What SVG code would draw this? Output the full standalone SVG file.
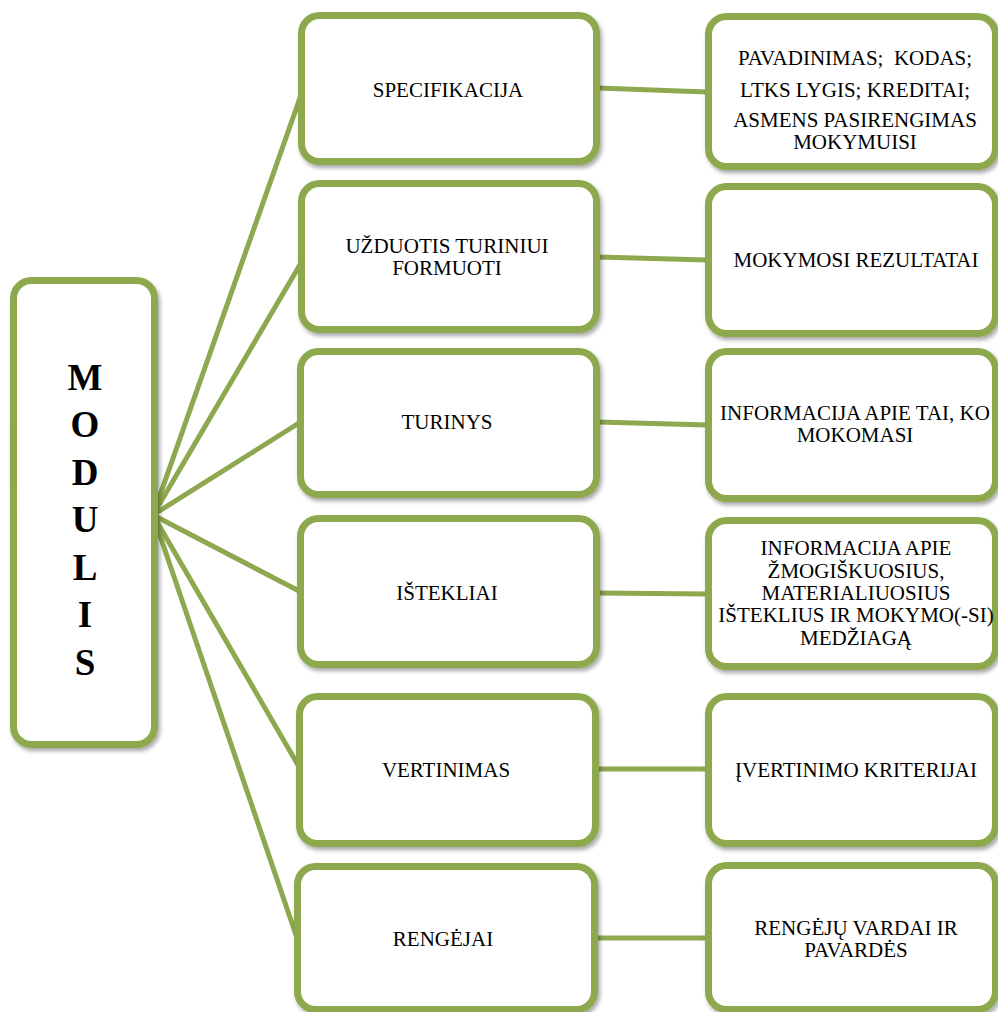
<svg xmlns="http://www.w3.org/2000/svg" width="998" height="1012" viewBox="0 0 998 1012">
<defs>
<filter id="sh" x="-10%" y="-10%" width="120%" height="120%">
<feDropShadow dx="2" dy="3" stdDeviation="2" flood-color="#000" flood-opacity="0.35"/>
</filter>
<style>
.box{fill:#fff;stroke:#8DA84E;stroke-width:7;filter:url(#sh)}
.ln{stroke:#8DA84E;stroke-width:5;fill:none;stroke-linecap:butt}
.t{font-family:"Liberation Serif","Times New Roman",serif;font-size:21px;fill:#000;text-anchor:middle}
.big{font-family:"Liberation Serif","Times New Roman",serif;font-size:37px;font-weight:bold;fill:#000;text-anchor:middle}
</style>
</defs>
<rect width="998" height="1012" fill="#fff"/>
<g id="connectors">
<line class="ln" x1="153" y1="515" x2="301" y2="95"/>
<line class="ln" x1="153" y1="515" x2="301" y2="263"/>
<line class="ln" x1="153" y1="515" x2="299" y2="423"/>
<line class="ln" x1="153" y1="515" x2="299" y2="591"/>
<line class="ln" x1="153" y1="515" x2="298" y2="765"/>
<line class="ln" x1="153" y1="515" x2="296" y2="935"/>
<line class="ln" x1="598" y1="88" x2="707" y2="92"/>
<line class="ln" x1="598" y1="257" x2="707" y2="260"/>
<line class="ln" x1="598" y1="422" x2="707" y2="425"/>
<line class="ln" x1="598" y1="593" x2="707" y2="594"/>
<line class="ln" x1="598" y1="769" x2="707" y2="769"/>
<line class="ln" x1="598" y1="938" x2="707" y2="938"/>
</g>
<g id="modulis">
<rect class="box" x="13.5" y="280.5" width="141" height="464" rx="18"/>
<text class="big" x="85" y="390">M</text>
<text class="big" x="85" y="437">O</text>
<text class="big" x="85" y="485">D</text>
<text class="big" x="85" y="532">U</text>
<text class="big" x="85" y="580">L</text>
<text class="big" x="85" y="627">I</text>
<text class="big" x="85" y="675">S</text>
</g>
<g id="specifikacija">
<rect class="box" x="301.5" y="15.5" width="295" height="146" rx="18"/>
<text class="t" x="448" y="97">SPECIFIKACIJA</text>
</g>
<g id="uzduotis">
<rect class="box" x="301.5" y="183.5" width="295" height="146" rx="18"/>
<text class="t" x="447" y="253">UŽDUOTIS TURINIUI</text>
<text class="t" x="447" y="275">FORMUOTI</text>
</g>
<g id="turinys">
<rect class="box" x="300.5" y="351.5" width="296" height="143" rx="18"/>
<text class="t" x="447" y="429">TURINYS</text>
</g>
<g id="istekliai">
<rect class="box" x="300.5" y="518.5" width="296" height="146" rx="18"/>
<text class="t" x="447" y="600">IŠTEKLIAI</text>
</g>
<g id="vertinimas">
<rect class="box" x="299.5" y="696.5" width="296" height="147" rx="18"/>
<text class="t" x="446" y="777">VERTINIMAS</text>
</g>
<g id="rengejai">
<rect class="box" x="297.5" y="866.5" width="297" height="143" rx="18"/>
<text class="t" x="443" y="946">RENGĖJAI</text>
</g>
<g id="r-specifikacija">
<rect class="box" x="708.5" y="16.5" width="287" height="150" rx="18"/>
<text class="t" x="855" y="65" xml:space="preserve">PAVADINIMAS;  KODAS;</text>
<text class="t" x="855" y="97">LTKS LYGIS; KREDITAI;</text>
<text class="t" x="855" y="127">ASMENS PASIRENGIMAS</text>
<text class="t" x="855" y="149">MOKYMUISI</text>
</g>
<g id="r-rezultatai">
<rect class="box" x="708.5" y="186.5" width="287" height="147" rx="18"/>
<text class="t" x="856" y="267">MOKYMOSI REZULTATAI</text>
</g>
<g id="r-informacija">
<rect class="box" x="708.5" y="351.5" width="287" height="147" rx="18"/>
<text class="t" x="855" y="420">INFORMACIJA APIE TAI, KO</text>
<text class="t" x="855" y="442">MOKOMASI</text>
</g>
<g id="r-istekliai">
<rect class="box" x="708.5" y="520.5" width="287" height="146" rx="18"/>
<text class="t" x="856" y="555">INFORMACIJA APIE</text>
<text class="t" x="856" y="578">ŽMOGIŠKUOSIUS,</text>
<text class="t" x="856" y="600">MATERIALIUOSIUS</text>
<text class="t" x="856" y="622">IŠTEKLIUS IR MOKYMO(-SI)</text>
<text class="t" x="856" y="645">MEDŽIAGĄ</text>
</g>
<g id="r-kriterijai">
<rect class="box" x="708.5" y="696.5" width="287" height="147" rx="18"/>
<text class="t" x="856" y="777">ĮVERTINIMO KRITERIJAI</text>
</g>
<g id="r-rengejai">
<rect class="box" x="708.5" y="865.5" width="287" height="144" rx="18"/>
<text class="t" x="856" y="935">RENGĖJŲ VARDAI IR</text>
<text class="t" x="856" y="957">PAVARDĖS</text>
</g>
</svg>
